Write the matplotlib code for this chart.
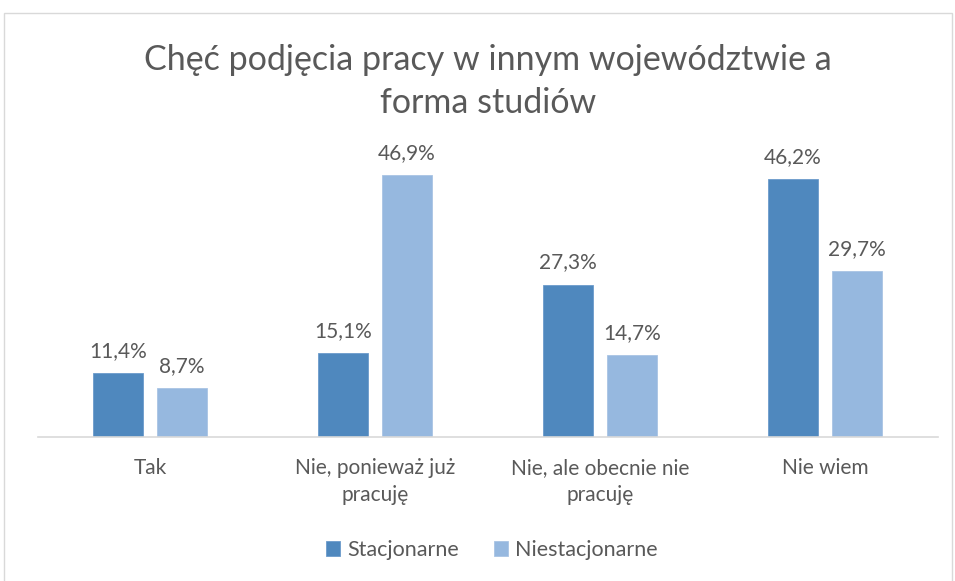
import numpy as np
import matplotlib.pyplot as plt
from matplotlib.patches import Rectangle

categories = ["Tak", "Nie, ponieważ już\npracuję", "Nie, ale obecnie nie\npracuję", "Nie wiem"]
stacjonarne = [11.4, 15.1, 27.3, 46.2]
niestacjonarne = [8.7, 46.9, 14.7, 29.7]
series_names = ["Stacjonarne", "Niestacjonarne"]
title_lines = ["Chęć podjęcia pracy w innym województwie a", "forma studiów"]

plt.rcParams['font.family'] = ['Lato', 'DejaVu Sans']
TXT = '#595959'

fig = plt.figure(figsize=(9.55, 5.81), dpi=100)
W, H = 955, 581
ax = fig.add_axes([37.5 / W, (H - 437) / H, 900 / W, 279.3 / H])

x = np.arange(len(categories))
bw = 0.222
off = 0.142
b1 = ax.bar(x - off, stacjonarne, bw, color='#4F88BE', edgecolor='#6C9BCB', linewidth=0.6, label=series_names[0])
b2 = ax.bar(x + off, niestacjonarne, bw, color='#96B8DF', edgecolor='#A9C4E4', linewidth=0.6, label=series_names[1])

for bars, vals in ((b1, stacjonarne), (b2, niestacjonarne)):
    for b, v in zip(bars, vals):
        ax.annotate(f"{v:.1f}%".replace('.', ','), (b.get_x() + b.get_width() / 2, v),
                    xytext=(0, 11.5), textcoords='offset points',
                    ha='center', va='baseline', fontsize=15, color=TXT)

ax.set_xlim(-0.5, 3.5)
ax.set_ylim(0, 50)
ax.set_yticks([])
ax.set_xticks(x)
ax.set_xticklabels(categories, fontsize=15, color=TXT, linespacing=1.45)
ax.tick_params(axis='x', length=0, pad=15)
for s in ('top', 'right', 'left'):
    ax.spines[s].set_visible(False)
ax.spines['bottom'].set_color('#D9D9D9')
ax.spines['bottom'].set_linewidth(1.2)

for line, ypx in zip(title_lines, (70, 113)):
    fig.text(488 / W, (H - ypx) / H, line, ha='center', va='baseline', fontsize=24.5, color=TXT)

leg = fig.legend(handles=[b1, b2], labels=series_names, loc='center', bbox_to_anchor=(492 / W, (H - 550) / H),
                 ncol=2, frameon=False, fontsize=15.5, handlelength=0.65, handleheight=0.65,
                 handletextpad=0.35, columnspacing=1.6)
for t in leg.get_texts():
    t.set_color(TXT)

fig.patches.append(Rectangle((4 / W, -0.05), 948 / W, (H - 13) / H + 0.05, transform=fig.transFigure,
                             fill=False, edgecolor='#D9D9D9', linewidth=1))

fig.savefig("out.png", dpi=100)
